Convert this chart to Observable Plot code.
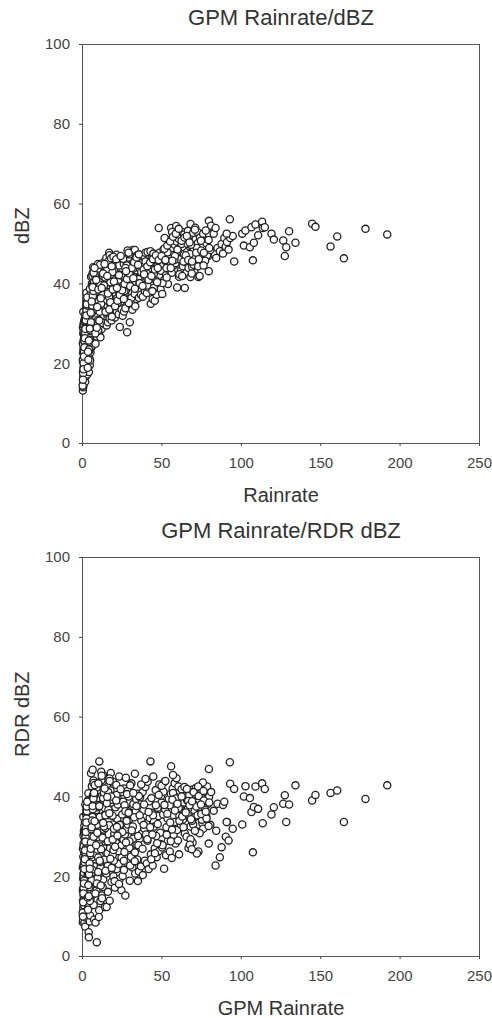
<!DOCTYPE html>
<html>
<head>
<meta charset="utf-8">
<script src="https://cdn.jsdelivr.net/npm/d3@7"></script>
<script src="https://cdn.jsdelivr.net/npm/@observablehq/plot@0.6"></script>
<style>
  html, body { margin: 0; padding: 0; background: #fff; }
  #charts { width: 492px; }
  #charts svg { display: block; }
</style>
</head>
<body>
<div id="charts"></div>
<script>
// Shared GPM rain rate of every sample (same x in both panels)
const rainrate = [
  // 0 - 1.5
  0.2,0.4,0.3,0.6,0.5,0.8,0.3,0.7,1.0,0.5,
  0.9,1.2,0.4,0.6,1.1,0.2,0.8,1.3,0.5,1.0,
  0.3,0.7,1.4,0.6,0.9,1.2,0.4,1.1,0.8,1.5,
  0.6,1.3,0.2,0.9,1.4,0.7,1.0,0.5,1.2,0.8,
  // 1.5 - 4
  1.7,2.0,2.4,3.0,2.2,3.5,1.8,2.7,3.2,3.8,
  2.5,1.9,3.3,2.8,3.9,2.1,3.6,1.6,2.9,3.4,
  2.3,3.1,1.8,3.7,2.6,2.0,3.3,2.8,3.9,2.4,
  3.0,2.2,3.6,1.7,2.7,3.8,2.0,3.4,2.5,3.1,
  // 4 - 8
  4.0,4.6,4.3,5.0,5.5,4.8,6.0,5.2,6.5,7.0,
  7.5,4.2,5.8,6.3,7.8,4.5,5.3,6.8,7.2,4.9,
  5.6,6.1,7.4,4.4,5.1,6.6,7.7,5.9,4.7,6.9,
  5.4,6.4,7.1,4.1,7.9,5.7,6.7,4.9,6.2,7.3,
  5.0,6.0,7.6,4.3,6.8,5.5,7.0,4.6,6.3,5.9,
  // 8 - 15
  8.2,9.0,10.5,11.3,12.0,8.8,9.6,13.0,14.2,10.0,
  11.0,12.6,13.8,8.5,9.4,14.7,10.8,12.2,13.4,9.1,
  11.6,14.0,8.7,10.2,13.2,12.4,9.8,14.6,11.9,10.6,
  12.9,9.2,13.6,11.4,8.9,14.4,10.4,12.7,13.0,9.9,
  11.8,14.9,8.4,10.9,13.5,12.3,9.5,14.1,11.1,10.3,
  // 15 - 25
  15.2,16.0,17.1,18.3,19.5,20.4,21.6,22.8,23.5,24.6,
  15.8,17.4,18.7,19.9,21.1,22.3,23.8,24.3,16.5,20.7,
  18.0,22.0,24.9,15.5,19.2,23.1,17.8,21.4,16.8,20.0,
  15.9,24.1,18.9,22.5,17.0,20.9,23.3,16.3,19.7,21.9,
  17.6,20.2,23.0,15.0,22.2,18.5,24.5,16.7,21.3,19.0,
  // 25 - 35
  25.3,26.1,27.0,28.1,29.8,30.5,31.4,32.3,33.2,34.1,
  25.8,26.7,27.6,28.5,29.4,30.3,31.1,32.0,33.8,34.7,
  26.0,27.3,28.9,29.6,31.7,33.0,34.5,25.6,30.8,32.7,
  27.8,30.0,33.5,26.4,29.1,31.9,34.9,28.4,32.9,25.1,
  // 35 - 50
  35.5,36.8,38.0,39.2,40.5,41.7,43.0,44.2,45.5,46.7,
  48.0,49.2,35.9,37.4,38.9,40.1,42.3,43.6,47.3,49.8,
  36.3,37.9,39.6,41.0,42.8,44.6,46.1,47.8,48.9,45.0,
  35.2,38.4,40.9,43.3,46.4,49.5,37.0,42.0,44.9,48.4,
  // 50 - 65
  50.2,51.4,52.6,53.8,55.0,56.2,57.4,58.6,59.6,60.8,
  62.0,63.2,64.4,50.8,52.0,53.2,54.4,55.6,56.8,58.0,
  59.2,60.4,61.6,62.8,64.0,51.0,53.5,55.8,57.0,59.0,
  61.0,63.8,52.9,54.9,57.9,60.1,62.4,64.9,51.7,56.4,
  // 65 - 80
  65.5,66.8,68.0,69.3,70.5,71.8,73.0,74.3,75.5,76.8,
  78.0,79.2,65.9,67.2,68.6,70.0,71.3,72.6,73.9,75.2,
  76.5,77.8,79.0,66.4,68.0,69.7,71.0,72.4,74.0,76.0,
  78.5,73.8,70.6,67.6,77.2,75.8,66.2,79.7,69.0,72.0,
  // 80 - 100
  79.5,79.6,81.0,82.6,83.8,80.5,85.0,86.5,87.6,88.5,
  89.3,90.2,91.0,92.0,92.8,93.0,94.6,95.5,84.2,90.8,
  // > 100
  100.6,101.6,102.6,105.4,106.4,107.3,107.9,108.9,110.6,113.1,
  113.5,114.8,119.0,120.5,126.4,127.4,128.3,130.1,134.1,144.6,
  146.7,156.2,160.4,164.6,178.2,191.9,
  // additional samples in the dense core
  0.1,0.4,0.7,1.0,1.3,1.6,1.9,2.2,2.5,2.8,
  0.3,0.6,0.9,1.2,1.5,1.8,2.1,2.4,2.7,3.0,
  3.3,3.7,4.1,4.5,4.9,5.3,5.7,6.1,6.5,6.9,
  7.3,7.7,3.5,4.0,4.6,5.2,5.8,6.4,7.0,7.6,
  8.1,9.0,9.9,10.8,11.7,12.6,13.5,14.4,15.3,16.2,
  17.1,18.0,18.9,19.8,8.6,10.0,11.5,13.0,14.5,16.0,
  17.5,19.0,9.3,12.1,15.6,18.4,10.6,13.9,16.9,19.5,
  20.5,22.0,23.5,25.0,26.5,28.0,29.5,31.0,32.5,34.0,
  35.5,37.0,38.5,40.0,21.2,24.0,27.0,30.0,33.0,36.0,
  38.8,23.0,26.0,29.0,32.0,35.0,37.8,39.7,21.7,27.4,
  40.8,42.6,44.4,46.2,48.0,49.8,51.6,53.4,55.2,57.0,
  58.8,60.6,62.4,64.2,41.6,43.4,45.6,47.4,50.4,53.0,
  55.6,58.2,61.0,63.6,44.0,47.0,52.2,56.6,59.8,62.8,
  65.0,66.6,68.3,70.0,71.6,73.2,74.8,76.4,78.1,79.8,
  65.7,67.4,69.0,70.8,72.8,74.6,76.2,77.6,79.4,68.8
];

// Top panel: GPM dBZ
const gpmDbz = [
  13.3,14.1,15.0,14.6,16.3,17.2,18.0,18.9,19.6,20.4,
  21.3,22.0,22.8,23.7,24.3,25.1,26.0,26.7,27.5,28.4,
  29.1,30.0,31.2,16.8,19.2,21.7,24.8,27.2,29.6,32.4,
  15.4,18.2,20.9,23.3,25.9,28.0,30.6,33.0,17.5,22.5,

  15.5,16.8,18.1,17.3,19.5,18.7,20.8,21.9,20.2,22.6,
  23.4,24.6,25.3,26.8,27.4,28.6,29.5,30.8,31.7,33.0,
  34.0,35.1,32.3,36.2,26.0,22.3,28.0,33.8,37.2,30.2,
  24.0,19.8,31.5,27.1,35.6,25.0,29.3,22.9,37.8,32.6,

  17.9,19.6,21.4,22.8,24.0,20.8,25.3,26.2,27.0,26.4,
  28.2,23.2,28.9,29.8,30.7,27.5,31.6,32.4,33.3,34.1,
  35.0,35.9,36.7,36.4,37.5,38.4,39.3,40.1,38.8,41.0,
  41.8,42.6,43.2,33.8,37.8,30.5,44.2,29.0,39.6,35.3,
  26.5,24.5,33.0,30.0,37.0,34.0,40.0,25.5,42.0,31.5,

  25.0,26.8,27.9,26.6,28.7,29.5,30.3,31.2,29.8,32.0,
  32.9,33.7,34.5,35.3,36.1,36.9,37.7,38.5,39.3,40.1,
  40.9,41.7,42.3,43.0,43.6,44.4,45.0,41.3,39.0,36.6,
  34.8,33.1,45.5,31.6,38.0,43.2,35.7,30.2,42.0,28.4,
  37.0,40.3,31.8,39.8,35.9,33.9,43.8,37.6,44.8,34.4,

  29.6,30.4,31.3,30.8,32.2,31.6,33.0,32.4,29.2,33.6,
  34.3,35.1,36.0,36.8,37.6,38.4,39.2,40.0,40.8,41.6,
  42.4,43.2,44.0,44.8,45.4,46.1,46.8,47.3,47.8,43.7,
  38.0,35.6,39.9,41.0,33.4,45.0,37.0,42.8,34.6,36.4,
  40.4,38.8,44.6,46.5,35.3,31.8,42.1,36.7,39.5,44.2,

  32.0,33.1,33.9,27.9,30.4,34.8,33.5,35.6,34.4,36.2,
  37.0,37.8,38.6,39.4,40.2,41.0,41.8,42.6,43.4,44.2,
  45.0,45.8,46.6,47.4,48.5,48.5,47.2,46.3,36.5,39.8,
  44.6,42.2,40.6,38.2,35.2,43.8,41.4,48.4,37.5,39.0,

  36.5,37.3,36.8,38.2,37.7,39.1,35.0,36.2,35.8,37.3,
  54.0,38.7,39.9,40.7,41.5,42.3,43.1,43.9,44.7,45.5,
  46.3,47.1,47.8,48.0,48.2,47.6,46.7,45.8,44.9,42.6,
  41.2,44.5,39.6,46.2,40.8,43.3,43.0,45.0,39.0,47.8,

  37.5,41.0,42.2,40.0,43.5,42.8,44.6,45.2,39.1,41.8,
  43.4,44.4,39.0,45.0,45.8,46.6,47.4,48.2,49.0,49.8,
  50.6,51.4,52.2,53.0,52.4,48.6,47.9,54.0,52.3,54.5,
  46.2,47.5,44.0,51.0,46.0,48.3,50.0,45.5,51.5,53.0,

  42.8,44.0,41.7,45.5,43.5,46.8,41.7,44.8,47.6,46.0,
  48.8,47.0,48.0,49.5,50.6,48.9,51.2,50.2,52.0,51.0,
  49.6,50.8,48.2,53.3,55.0,52.8,54.1,53.0,51.6,52.6,
  47.2,42.0,46.5,47.5,45.8,49.3,50.0,52.5,44.3,49.0,

  43.2,55.8,54.6,52.6,54.0,48.5,49.0,48.2,50.0,47.6,
  51.5,49.4,50.5,48.6,56.2,51.5,52.0,45.6,46.5,52.6,

  52.6,49.6,53.4,49.2,54.2,45.9,50.3,54.9,52.2,55.6,
  54.0,54.2,52.6,51.1,50.9,47.0,49.2,53.2,50.3,55.1,
  54.3,49.4,51.9,46.4,53.8,52.4,

  14.5,17.6,20.1,23.0,25.6,27.8,29.0,31.0,33.4,34.6,
  16.0,18.6,21.8,24.1,26.4,28.7,30.9,32.1,34.9,36.6,
  19.0,21.0,23.6,26.0,28.4,30.4,32.6,34.6,36.9,38.2,
  40.5,42.2,23.0,25.8,28.8,32.8,35.6,39.2,42.8,44.0,
  27.6,29.0,31.0,33.0,35.0,37.2,39.6,41.6,43.4,45.6,
  47.2,46.4,43.0,40.6,41.0,38.6,36.4,42.6,33.0,37.6,
  35.4,38.6,34.2,39.0,42.0,44.4,30.8,45.0,33.6,46.8,
  34.4,35.8,37.2,38.4,40.0,41.2,42.6,44.0,45.4,46.6,
  47.4,45.2,43.6,41.8,46.2,47.0,44.0,39.4,38.8,40.2,
  42.4,42.2,36.2,47.8,41.4,44.8,39.5,45.6,39.0,43.2,
  44.4,45.4,46.2,47.2,46.0,47.0,48.8,49.6,50.6,51.8,
  52.6,53.8,50.8,51.6,41.0,42.0,43.6,44.0,40.2,41.6,
  44.0,47.0,42.4,45.6,38.2,40.4,46.0,45.8,48.6,42.0,
  47.2,46.0,49.8,44.8,47.8,46.2,48.4,47.8,50.2,49.0,
  52.0,50.4,45.6,53.6,44.4,50.8,44.6,53.4,51.0,42.6
];

// Bottom panel: RDR dBZ
const rdrDbz = [
  8.6,9.4,10.2,11.5,12.3,13.1,14.0,15.2,16.1,17.0,
  17.8,18.9,19.5,20.6,21.4,22.3,23.2,24.1,25.0,26.2,
  27.0,28.3,29.5,30.4,31.6,32.8,9.1,12.8,19.9,33.9,
  10.7,14.5,16.6,21.0,24.7,27.6,30.9,35.0,8.4,22.8,

  7.5,9.8,11.2,13.4,15.0,12.1,17.3,18.6,20.4,21.5,
  22.7,24.0,25.3,26.4,27.8,29.1,30.3,31.5,32.9,34.2,
  35.6,36.9,38.1,40.9,19.2,23.6,28.0,33.3,6.1,14.4,
  16.2,27.1,39.2,31.0,36.0,10.5,25.8,20.9,29.6,34.8,

  4.8,8.8,12.6,14.3,16.0,10.3,18.2,19.7,21.1,12.9,
  22.6,23.5,24.8,26.0,27.3,28.4,29.7,30.8,32.1,33.3,
  34.5,35.7,36.8,38.0,39.2,40.4,41.5,42.7,37.3,44.1,
  45.9,46.8,40.1,31.2,26.8,19.1,15.6,36.2,28.9,9.2,
  25.4,21.8,32.8,17.4,38.7,30.1,43.5,13.9,35.0,27.6,

  8.5,3.6,11.6,13.9,15.3,16.6,18.0,19.3,12.4,20.5,
  21.8,23.1,24.3,25.6,26.8,28.0,29.3,30.5,31.8,33.0,
  34.2,35.5,36.7,38.0,39.2,40.5,41.7,43.0,44.2,48.9,
  45.5,37.4,27.1,22.4,42.3,32.2,29.9,17.4,39.7,24.8,
  46.3,26.0,30.9,35.0,41.1,14.6,19.6,37.2,23.7,9.9,

  12.4,16.2,14.0,18.7,20.1,17.3,21.9,23.2,19.5,24.8,
  25.9,27.2,28.5,29.8,31.0,32.3,33.6,34.8,36.1,37.4,
  38.6,39.9,41.2,42.5,43.8,45.1,46.0,40.5,35.4,30.7,
  22.7,27.9,33.1,26.4,44.6,28.9,31.7,36.8,24.0,34.5,
  41.6,18.9,30.1,20.8,38.1,39.3,16.6,32.9,43.0,25.5,

  20.2,21.7,15.3,23.5,19.0,25.0,22.3,26.6,20.8,28.0,
  29.3,30.6,31.9,33.1,34.4,35.7,37.0,38.2,39.5,40.8,
  42.1,44.8,36.4,27.2,32.6,45.8,24.3,38.8,43.4,30.0,
  34.0,22.8,36.3,26.2,40.1,29.5,18.9,41.5,23.9,31.2,

  21.3,22.6,20.4,24.0,23.3,21.9,25.6,22.8,27.1,24.9,
  26.4,28.2,29.5,30.8,32.1,33.4,34.7,36.0,37.3,38.6,
  39.9,41.2,42.5,43.8,48.9,45.1,41.7,35.2,31.0,33.8,
  27.9,36.6,29.0,24.4,30.2,40.3,34.1,38.9,32.5,43.1,

  27.3,22.0,25.4,29.0,26.3,24.7,30.5,28.3,31.7,25.6,
  33.0,34.3,30.9,35.6,36.9,38.2,39.5,40.8,42.1,43.4,
  44.7,42.6,37.4,36.1,38.6,41.3,34.6,47.7,45.5,39.9,
  35.2,40.2,32.4,37.9,33.7,29.1,41.9,36.5,43.8,31.8,

  30.0,27.2,32.6,28.6,34.9,31.3,26.3,36.0,33.4,37.8,
  35.1,38.3,39.1,40.4,41.8,36.7,42.2,38.6,40.9,34.3,
  36.4,41.2,39.6,37.0,29.4,33.1,40.7,35.4,37.5,32.0,
  42.6,30.9,38.0,28.0,36.8,43.6,35.8,40.0,34.0,25.8,

  28.3,47.0,41.2,36.5,22.8,33.0,38.3,24.9,27.4,38.0,
  38.8,30.0,33.7,29.1,48.7,43.3,32.0,42.0,31.5,33.7,

  33.1,40.1,42.7,39.7,36.2,26.1,37.5,42.6,37.0,43.4,
  33.4,42.0,35.6,37.4,38.3,40.4,33.7,38.1,42.9,39.1,
  40.5,41.0,41.6,33.7,39.5,42.9,

  11.0,13.6,17.2,19.0,23.6,26.6,29.9,32.2,34.6,36.4,
  10.0,15.8,18.3,21.9,24.4,28.8,31.2,33.6,37.6,38.8,
  14.8,17.9,20.6,23.3,25.9,28.6,31.9,34.1,36.9,39.6,
  41.0,43.0,11.7,15.1,22.0,27.0,32.4,37.7,30.0,33.9,
  15.8,18.3,21.2,24.0,26.9,29.8,32.6,35.4,38.4,41.2,
  44.0,40.1,35.3,32.0,27.9,43.4,17.8,33.5,21.5,28.9,
  24.5,29.3,31.0,45.3,40.0,22.2,37.7,42.1,35.9,26.7,
  27.5,30.3,33.0,35.6,37.9,40.7,28.9,31.6,34.9,37.7,
  40.2,43.1,33.0,30.6,39.1,41.9,36.4,42.9,26.1,35.4,
  38.1,18.2,24.0,36.0,41.0,30.2,27.0,44.5,32.5,28.6,
  29.4,32.4,35.4,37.9,40.5,42.8,38.0,35.8,33.6,41.0,
  39.6,37.2,40.1,42.5,36.2,39.7,25.9,33.2,27.9,30.5,
  28.9,36.6,34.0,32.4,30.6,28.4,44.0,39.3,38.3,35.1,
  36.1,39.0,34.4,41.2,37.6,40.2,35.7,39.1,34.6,38.6,
  42.0,37.9,38.9,31.5,42.6,38.1,41.5,36.3,32.7,26.9
];

const xTicks = [0, 50, 100, 150, 200, 250];
const yTicks = [0, 20, 40, 60, 80, 100];

const panels = [
  {title: "GPM Rainrate/dBZ", xLabel: "Rainrate", yLabel: "dBZ", values: gpmDbz, mt: 44, mb: 66},
  {title: "GPM Rainrate/RDR dBZ", xLabel: "GPM Rainrate", yLabel: "RDR dBZ", values: rdrDbz, mt: 48, mb: 62}
];

const font = "'Liberation Sans', Arial, Helvetica, sans-serif";
const n = Math.min(rainrate.length, gpmDbz.length, rdrDbz.length);
const idx = d3.range(n);

for (const p of panels) {
  const chart = Plot.plot({
    width: 492,
    height: 509,
    marginTop: p.mt,
    marginBottom: p.mb,
    marginLeft: 82,
    marginRight: 13,
    style: {fontFamily: font, fontSize: "15px", color: "#444", background: "white", overflow: "visible"},
    x: {domain: [0, 250], ticks: xTicks, tickSize: 3, tickPadding: 11, label: null},
    y: {domain: [0, 100], ticks: yTicks, tickSize: 3, tickPadding: 9.5, label: null},
    marks: [
      Plot.frame({stroke: "#555", strokeWidth: 1}),
      Plot.dot(idx, {x: i => rainrate[i], y: i => p.values[i], r: 3.6, stroke: "#222", strokeWidth: 1.3, fill: "white"}),
      Plot.text([p.title], {text: d => d, frameAnchor: "top", lineAnchor: "middle", dy: -26.5, fontSize: 22, fill: "#333"}),
      Plot.text([p.xLabel], {text: d => d, frameAnchor: "bottom", lineAnchor: "middle", dy: 52, fontSize: 20, fill: "#333"}),
      Plot.text([p.yLabel], {text: d => d, frameAnchor: "left", lineAnchor: "middle", rotate: -90, dx: -59.5, fontSize: 20, fill: "#333"})
    ]
  });
  document.getElementById("charts").appendChild(chart);
}
</script>
</body>
</html>
